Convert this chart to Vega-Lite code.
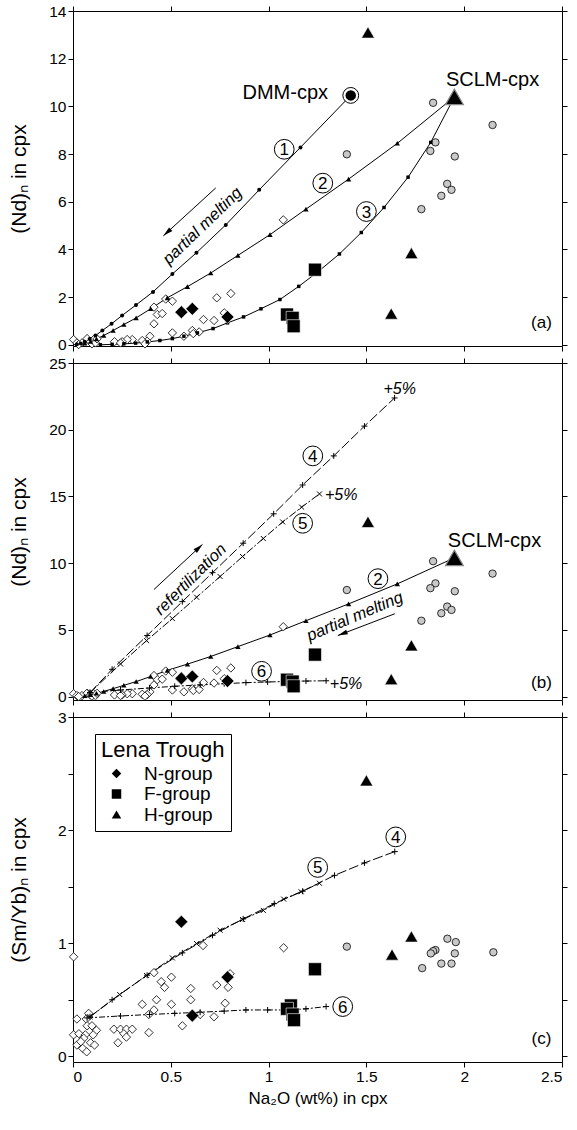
{
"$schema":"https://vega.github.io/schema/vega-lite/v6.json",
"padding":{"left":8,"top":4,"right":5,"bottom":5},
"spacing":17,
"bounds":"flush",
"config":{"font":"Liberation Sans","view":{"stroke":null},
 "axis":{"domainColor":"black","tickColor":"black","labelColor":"black","titleColor":"black","labelFontSize":15.5,"titleFontSize":21,"titleFontWeight":"normal","tickSize":5,"grid":false,"labelFont":"Liberation Sans","titleFont":"Liberation Sans"}},
"datasets":{
"ndOpen":[{"x":1.075,"y":5.24},{"x":0.735,"y":1.97},{"x":0.807,"y":2.15},{"x":0.474,"y":1.92},{"x":0.508,"y":1.83},{"x":0.414,"y":1.58},{"x":0.431,"y":1.27},{"x":0.456,"y":1.31},{"x":0.414,"y":0.88},{"x":0.667,"y":1.06},{"x":0.721,"y":1.02},{"x":0.773,"y":1.34},{"x":0.508,"y":0.5},{"x":0.567,"y":0.36},{"x":0.61,"y":0.6},{"x":0.615,"y":0.47},{"x":0.645,"y":0.54},{"x":0.393,"y":0.36},{"x":0.379,"y":0.15},{"x":0.354,"y":0.18},{"x":0.303,"y":0.22},{"x":0.277,"y":0.22},{"x":0.251,"y":0.13},{"x":0.212,"y":0.13},{"x":0.243,"y":0.08},{"x":0.368,"y":0.04},{"x":0.003,"y":0.22},{"x":0.02,"y":0.08},{"x":0.046,"y":0.08},{"x":0.072,"y":0.26},{"x":0.089,"y":0.13},{"x":0.106,"y":0.22},{"x":0.097,"y":0.04},{"x":0.115,"y":0.08},{"x":0.029,"y":0.01},{"x":0.123,"y":0.25}],
"ndGray":[{"x":1.841,"y":10.15},{"x":2.145,"y":9.22},{"x":1.4,"y":7.99},{"x":1.853,"y":8.49},{"x":1.827,"y":8.13},{"x":1.952,"y":7.9},{"x":1.913,"y":6.75},{"x":1.935,"y":6.5},{"x":1.883,"y":6.25},{"x":1.781,"y":5.69}],
"ndLena":[{"g":"N-group","x":0.554,"y":1.37},{"g":"N-group","x":0.61,"y":1.51},{"g":"N-group","x":0.79,"y":1.17},{"g":"F-group","x":1.237,"y":3.15},{"g":"F-group","x":1.094,"y":1.27},{"g":"F-group","x":1.123,"y":1.13},{"g":"F-group","x":1.128,"y":0.78},{"g":"H-group","x":1.508,"y":13.1},{"g":"H-group","x":1.73,"y":3.85},{"g":"H-group","x":1.627,"y":1.31}],
"smybOpen":[{"x":0.003,"y":0.88},{"x":0.665,"y":0.98},{"x":1.077,"y":0.96},{"x":0.414,"y":0.74},{"x":0.451,"y":0.66},{"x":0.468,"y":0.61},{"x":0.503,"y":0.7},{"x":0.602,"y":0.6},{"x":0.602,"y":0.5},{"x":0.735,"y":0.63},{"x":0.793,"y":0.61},{"x":0.803,"y":0.73},{"x":0.778,"y":0.47},{"x":0.721,"y":0.35},{"x":0.65,"y":0.37},{"x":0.559,"y":0.27},{"x":0.354,"y":0.46},{"x":0.414,"y":0.41},{"x":0.427,"y":0.5},{"x":0.503,"y":0.46},{"x":0.388,"y":0.37},{"x":0.388,"y":0.21},{"x":0.209,"y":0.24},{"x":0.243,"y":0.24},{"x":0.273,"y":0.24},{"x":0.303,"y":0.24},{"x":0.26,"y":0.2},{"x":0.273,"y":0.17},{"x":0.02,"y":0.33},{"x":0.08,"y":0.38},{"x":0.068,"y":0.33},{"x":0.072,"y":0.27},{"x":0.097,"y":0.27},{"x":0.12,"y":0.23},{"x":0.103,"y":0.19},{"x":0.003,"y":0.19},{"x":0.03,"y":0.2},{"x":0.063,"y":0.19},{"x":0.055,"y":0.16},{"x":0.02,"y":0.1},{"x":0.05,"y":0.07},{"x":0.09,"y":0.12},{"x":0.07,"y":0.04},{"x":0.11,"y":0.1},{"x":0.04,"y":0.13},{"x":0.23,"y":0.12}],
"smybGray":[{"x":1.4,"y":0.97},{"x":1.914,"y":1.04},{"x":1.957,"y":1.01},{"x":1.853,"y":0.94},{"x":1.841,"y":0.93},{"x":1.829,"y":0.91},{"x":1.952,"y":0.91},{"x":2.149,"y":0.92},{"x":1.883,"y":0.82},{"x":1.935,"y":0.82},{"x":1.785,"y":0.78}],
"smybLena":[{"g":"N-group","x":0.554,"y":1.19},{"g":"N-group","x":0.79,"y":0.7},{"g":"N-group","x":0.61,"y":0.36},{"g":"F-group","x":1.237,"y":0.77},{"g":"F-group","x":1.114,"y":0.45},{"g":"F-group","x":1.094,"y":0.42},{"g":"F-group","x":1.123,"y":0.37},{"g":"F-group","x":1.13,"y":0.32},{"g":"H-group","x":1.5,"y":2.44},{"g":"H-group","x":1.73,"y":1.06},{"g":"H-group","x":1.631,"y":0.9}],
"ndCurves":[
{"c":"1","x":1.42,"y":10.46},{"c":"1","x":1.163,"y":8.28},{"c":"1","x":0.952,"y":6.5},{"c":"1","x":0.781,"y":5.03},{"c":"1","x":0.631,"y":3.86},{"c":"1","x":0.508,"y":2.97},{"c":"1","x":0.409,"y":2.22},{"c":"1","x":0.322,"y":1.67},{"c":"1","x":0.251,"y":1.23},{"c":"1","x":0.197,"y":0.88},{"c":"1","x":0.15,"y":0.6},{"c":"1","x":0.115,"y":0.39},{"c":"1","x":0.085,"y":0.24},{"c":"1","x":0.06,"y":0.13},{"c":"1","x":0.04,"y":0.06},{"c":"1","x":0.02,"y":0.02},
{"c":"2","x":1.95,"y":10.4},{"c":"2","x":1.658,"y":8.45},{"c":"2","x":1.409,"y":6.95},{"c":"2","x":1.191,"y":5.69},{"c":"2","x":1.007,"y":4.62},{"c":"2","x":0.843,"y":3.75},{"c":"2","x":0.704,"y":3.01},{"c":"2","x":0.585,"y":2.44},{"c":"2","x":0.482,"y":1.97},{"c":"2","x":0.397,"y":1.51},{"c":"2","x":0.323,"y":1.13},{"c":"2","x":0.26,"y":0.85},{"c":"2","x":0.205,"y":0.6},{"c":"2","x":0.157,"y":0.39},{"c":"2","x":0.12,"y":0.25},{"c":"2","x":0.09,"y":0.14},{"c":"2","x":0.06,"y":0.07},
{"c":"3","x":1.95,"y":10.4},{"c":"3","x":1.829,"y":8.49},{"c":"3","x":1.713,"y":7.03},{"c":"3","x":1.59,"y":5.76},{"c":"3","x":1.474,"y":4.71},{"c":"3","x":1.362,"y":3.81},{"c":"3","x":1.255,"y":3.08},{"c":"3","x":1.154,"y":2.45},{"c":"3","x":1.058,"y":1.9},{"c":"3","x":0.961,"y":1.51},{"c":"3","x":0.872,"y":1.17},{"c":"3","x":0.79,"y":0.92},{"c":"3","x":0.716,"y":0.68},{"c":"3","x":0.636,"y":0.5},{"c":"3","x":0.567,"y":0.36},{"c":"3","x":0.508,"y":0.26},{"c":"3","x":0.444,"y":0.18},{"c":"3","x":0.38,"y":0.12},{"c":"3","x":0.32,"y":0.07},{"c":"3","x":0.26,"y":0.04},{"c":"3","x":0.2,"y":0.02},{"c":"3","x":0.14,"y":0.0},
{"c":"4","x":0.087,"y":0.3},{"c":"4","x":0.2,"y":2.05},{"c":"4","x":0.379,"y":4.58},{"c":"4","x":0.559,"y":7.12},{"c":"4","x":0.713,"y":9.29},{"c":"4","x":0.87,"y":11.5},{"c":"4","x":1.026,"y":13.7},{"c":"4","x":1.174,"y":15.86},{"c":"4","x":1.333,"y":18.04},{"c":"4","x":1.49,"y":20.27},{"c":"4","x":1.644,"y":22.38},
{"c":"5","x":0.087,"y":0.3},{"c":"5","x":0.243,"y":2.45},{"c":"5","x":0.376,"y":4.2},{"c":"5","x":0.508,"y":5.85},{"c":"5","x":0.632,"y":7.45},{"c":"5","x":0.752,"y":9.0},{"c":"5","x":0.867,"y":10.5},{"c":"5","x":0.973,"y":11.85},{"c":"5","x":1.072,"y":13.09},{"c":"5","x":1.169,"y":14.2},{"c":"5","x":1.26,"y":15.19},
{"c":"6","x":0.087,"y":0.3},{"c":"6","x":0.243,"y":0.5},{"c":"6","x":0.391,"y":0.65},{"c":"6","x":0.52,"y":0.78},{"c":"6","x":0.65,"y":0.88},{"c":"6","x":0.773,"y":0.97},{"c":"6","x":0.884,"y":1.05},{"c":"6","x":0.995,"y":1.1},{"c":"6","x":1.1,"y":1.14},{"c":"6","x":1.191,"y":1.17},{"c":"6","x":1.294,"y":1.19}],
"smybCurves":[
{"c":"4","x":0.087,"y":0.35},{"c":"4","x":0.2,"y":0.5},{"c":"4","x":0.379,"y":0.717},{"c":"4","x":0.559,"y":0.915},{"c":"4","x":0.713,"y":1.07},{"c":"4","x":0.87,"y":1.215},{"c":"4","x":1.029,"y":1.35},{"c":"4","x":1.174,"y":1.46},{"c":"4","x":1.337,"y":1.6},{"c":"4","x":1.49,"y":1.71},{"c":"4","x":1.645,"y":1.81},
{"c":"5","x":0.087,"y":0.35},{"c":"5","x":0.239,"y":0.546},{"c":"5","x":0.376,"y":0.715},{"c":"5","x":0.508,"y":0.87},{"c":"5","x":0.632,"y":0.997},{"c":"5","x":0.752,"y":1.115},{"c":"5","x":0.867,"y":1.21},{"c":"5","x":0.973,"y":1.29},{"c":"5","x":1.077,"y":1.39},{"c":"5","x":1.166,"y":1.455},{"c":"5","x":1.26,"y":1.53},
{"c":"6","x":0.072,"y":0.34},{"c":"6","x":0.243,"y":0.357},{"c":"6","x":0.391,"y":0.37},{"c":"6","x":0.52,"y":0.38},{"c":"6","x":0.65,"y":0.39},{"c":"6","x":0.773,"y":0.4},{"c":"6","x":0.884,"y":0.41},{"c":"6","x":0.995,"y":0.41},{"c":"6","x":1.1,"y":0.41},{"c":"6","x":1.191,"y":0.42},{"c":"6","x":1.294,"y":0.44}],
"circ":[{"p":"a","t":"1","x":1.08,"y":8.2},{"p":"a","t":"2","x":1.277,"y":6.78},{"p":"a","t":"3","x":1.5,"y":5.59},{"p":"b","t":"4","x":1.226,"y":18.04},{"p":"b","t":"5","x":1.174,"y":12.99},{"p":"b","t":"2","x":1.559,"y":8.84},{"p":"b","t":"6","x":0.964,"y":1.9},{"p":"c","t":"4","x":1.65,"y":1.94},{"p":"c","t":"5","x":1.251,"y":1.67},{"p":"c","t":"6","x":1.379,"y":0.44}],
"labels":[{"p":"a","t":"DMM-cpx","x":1.085,"y":10.56},{"p":"a","t":"SCLM-cpx","x":2.145,"y":11.1},{"p":"b","t":"SCLM-cpx","x":2.155,"y":11.64}],
"tags":[{"p":"a","t":"(a)","x":2.395,"y":0.9},{"p":"b","t":"(b)","x":2.395,"y":1.05},{"p":"c","t":"(c)","x":2.395,"y":0.15}],
"pct":[{"t":"+5%","x":1.67,"y":23.05},{"t":"+5%","x":1.371,"y":15.11},{"t":"+5%","x":1.396,"y":0.98}],
"arrows":[{"a":"am","x":0.73,"y":6.58},{"a":"am","x":0.462,"y":4.57},{"a":"bm","x":1.645,"y":6.21},{"a":"bm","x":1.354,"y":4.58},{"a":"br","x":0.414,"y":8.03},{"a":"br","x":0.662,"y":11.41}]
},
"resolve":{"scale":{"shape":"independent"},"legend":{"shape":"independent"}},
"vconcat":[
{"width":489,"height":335,
 "resolve":{"axis":{"x":"independent","y":"independent"}},
 "layer":[
  {"data":{"name":"ndCurves"},"transform":[{"filter":"datum.c<='3'"}],
   "mark":{"type":"line","color":"black","strokeWidth":1},
   "encoding":{
    "x":{"field":"x","type":"quantitative","scale":{"domain":[0,2.5],"nice":false,"zero":false},"axis":{"values":[0,0.5,1,1.5,2,2.5],"labels":false,"title":null}},
    "y":{"field":"y","type":"quantitative","scale":{"domain":[-0.05,14],"nice":false,"zero":false},"axis":{"values":[0,2,4,6,8,10,12,14],"title":"(Nd)ₙ in cpx","minExtent":30,"maxExtent":30,"titlePadding":14}},
    "detail":{"field":"c"},"order":{"field":"x","type":"quantitative"}}},
  {"data":{"name":"ndGray"},"mark":{"type":"point","shape":"circle","filled":true,"fill":"#c8c8c8","stroke":"black","strokeWidth":0.8,"size":55,"opacity":1},
   "encoding":{
    "x":{"field":"x","type":"quantitative","axis":{"orient":"top","values":[0,0.5,1,1.5,2,2.5],"labels":false,"title":null}},
    "y":{"field":"y","type":"quantitative","axis":{"orient":"right","values":[0,2,4,6,8,10,12,14],"labels":false,"title":null}}}},
  {"data":{"name":"ndOpen"},"mark":{"type":"point","shape":"diamond","filled":true,"fill":"white","stroke":"black","strokeWidth":0.8,"size":70,"opacity":1},
   "encoding":{"x":{"field":"x","type":"quantitative","axis":null},"y":{"field":"y","type":"quantitative","axis":null}}},
  {"data":{"name":"ndCurves"},"transform":[{"filter":"datum.c=='1' && datum.x<1.4"}],"mark":{"type":"point","shape":"circle","filled":true,"color":"black","size":16,"opacity":1},
   "encoding":{"x":{"field":"x","type":"quantitative","axis":null},"y":{"field":"y","type":"quantitative","axis":null}}},
  {"data":{"name":"ndCurves"},"transform":[{"filter":"datum.c=='2' && datum.x<1.9"}],"mark":{"type":"point","shape":"triangle-up","filled":true,"color":"black","size":28,"opacity":1},
   "encoding":{"x":{"field":"x","type":"quantitative","axis":null},"y":{"field":"y","type":"quantitative","axis":null}}},
  {"data":{"name":"ndCurves"},"transform":[{"filter":"datum.c=='3' && datum.x<1.9"}],"mark":{"type":"point","shape":"square","filled":true,"color":"black","size":12,"opacity":1},
   "encoding":{"x":{"field":"x","type":"quantitative","axis":null},"y":{"field":"y","type":"quantitative","axis":null}}},
  {"data":{"name":"ndLena"},"mark":{"type":"point","filled":true,"color":"black","stroke":"white","strokeWidth":0.6,"size":170,"opacity":1},
   "encoding":{"x":{"field":"x","type":"quantitative","axis":null},"y":{"field":"y","type":"quantitative","axis":null},
    "shape":{"field":"g","type":"nominal","scale":{"domain":["N-group","F-group","H-group"],"range":["diamond","square","triangle-up"]},"legend":null}}},
  {"data":{"values":[{"x":1.42,"y":10.46}]},"mark":{"type":"point","shape":"circle","filled":true,"fill":"white","stroke":"black","strokeWidth":1,"size":250,"opacity":1},
   "encoding":{"x":{"field":"x","type":"quantitative","axis":null},"y":{"field":"y","type":"quantitative","axis":null}}},
  {"data":{"values":[{"x":1.42,"y":10.46}]},"mark":{"type":"point","shape":"circle","filled":true,"color":"black","size":110,"opacity":1},
   "encoding":{"x":{"field":"x","type":"quantitative","axis":null},"y":{"field":"y","type":"quantitative","axis":null}}},
  {"data":{"values":[{"x":1.95,"y":10.4}]},"mark":{"type":"point","shape":"triangle-up","filled":true,"fill":"black","stroke":"#888888","strokeWidth":1.2,"size":320,"opacity":1},
   "encoding":{"x":{"field":"x","type":"quantitative","axis":null},"y":{"field":"y","type":"quantitative","axis":null}}},
  {"data":{"name":"circ"},"transform":[{"filter":"datum.p=='a'"}],"mark":{"type":"point","shape":"circle","filled":true,"fill":"white","stroke":"black","strokeWidth":1,"size":390,"opacity":1},
   "encoding":{"x":{"field":"x","type":"quantitative","axis":null},"y":{"field":"y","type":"quantitative","axis":null}}},
  {"data":{"name":"circ"},"transform":[{"filter":"datum.p=='a'"}],"mark":{"type":"text","fontSize":17,"color":"black","baseline":"middle","dy":1},
   "encoding":{"x":{"field":"x","type":"quantitative","axis":null},"y":{"field":"y","type":"quantitative","axis":null},"text":{"field":"t"}}},
  {"data":{"name":"labels"},"transform":[{"filter":"datum.p=='a'"}],"mark":{"type":"text","fontSize":20,"color":"black","baseline":"middle"},
   "encoding":{"x":{"field":"x","type":"quantitative","axis":null},"y":{"field":"y","type":"quantitative","axis":null},"text":{"field":"t"}}},
  {"data":{"name":"tags"},"transform":[{"filter":"datum.p=='a'"}],"mark":{"type":"text","fontSize":17,"color":"black","baseline":"middle"},
   "encoding":{"x":{"field":"x","type":"quantitative","axis":null},"y":{"field":"y","type":"quantitative","axis":null},"text":{"field":"t"}}},
  {"data":{"values":[{"t":"partial melting","x":0.662,"y":4.98}]},"mark":{"type":"text","fontSize":16.5,"fontStyle":"italic","color":"black","baseline":"middle","angle":316},
   "encoding":{"x":{"field":"x","type":"quantitative","axis":null},"y":{"field":"y","type":"quantitative","axis":null},"text":{"field":"t"}}},
  {"data":{"name":"arrows"},"transform":[{"filter":"datum.a=='am'"}],"mark":{"type":"line","color":"black","strokeWidth":1},
   "encoding":{"x":{"field":"x","type":"quantitative","axis":null},"y":{"field":"y","type":"quantitative","axis":null}}},
  {"data":{"values":[{"x":0.462,"y":4.57}]},"mark":{"type":"point","shape":"M0,0L0.55,2.2L-0.55,2.2Z","filled":true,"color":"black","size":81,"opacity":1,"angle":228},
   "encoding":{"x":{"field":"x","type":"quantitative","axis":null},"y":{"field":"y","type":"quantitative","axis":null}}}
 ]},
{"width":489,"height":337,
 "resolve":{"axis":{"x":"independent","y":"independent"}},
 "layer":[
  {"data":{"name":"ndCurves"},"transform":[{"filter":"datum.c=='2'"}],
   "mark":{"type":"line","color":"black","strokeWidth":1},
   "encoding":{
    "x":{"field":"x","type":"quantitative","scale":{"domain":[0,2.5],"nice":false,"zero":false},"axis":{"values":[0,0.5,1,1.5,2,2.5],"labels":false,"title":null}},
    "y":{"field":"y","type":"quantitative","scale":{"domain":[-0.25,25],"nice":false,"zero":false},"axis":{"values":[0,5,10,15,20,25],"title":"(Nd)ₙ in cpx","minExtent":30,"maxExtent":30,"titlePadding":14}},
    "order":{"field":"x","type":"quantitative"}}},
  {"data":{"name":"ndCurves"},"transform":[{"filter":"datum.c=='4'"}],"mark":{"type":"line","color":"black","strokeWidth":1,"strokeDash":[10,3]},
   "encoding":{
    "x":{"field":"x","type":"quantitative","axis":{"orient":"top","values":[0,0.5,1,1.5,2,2.5],"labels":false,"title":null}},
    "y":{"field":"y","type":"quantitative","axis":{"orient":"right","values":[0,5,10,15,20,25],"labels":false,"title":null}},
    "order":{"field":"x","type":"quantitative"}}},
  {"data":{"name":"ndCurves"},"transform":[{"filter":"datum.c=='5'"}],"mark":{"type":"line","color":"black","strokeWidth":1,"strokeDash":[8,2,2,2]},
   "encoding":{"x":{"field":"x","type":"quantitative","axis":null},"y":{"field":"y","type":"quantitative","axis":null},"order":{"field":"x","type":"quantitative"}}},
  {"data":{"name":"ndCurves"},"transform":[{"filter":"datum.c=='6'"}],"mark":{"type":"line","color":"black","strokeWidth":1,"strokeDash":[6,2,2,2]},
   "encoding":{"x":{"field":"x","type":"quantitative","axis":null},"y":{"field":"y","type":"quantitative","axis":null},"order":{"field":"x","type":"quantitative"}}},
  {"data":{"name":"ndGray"},"mark":{"type":"point","shape":"circle","filled":true,"fill":"#c8c8c8","stroke":"black","strokeWidth":0.8,"size":55,"opacity":1},
   "encoding":{"x":{"field":"x","type":"quantitative","axis":null},"y":{"field":"y","type":"quantitative","axis":null}}},
  {"data":{"name":"ndOpen"},"mark":{"type":"point","shape":"diamond","filled":true,"fill":"white","stroke":"black","strokeWidth":0.8,"size":70,"opacity":1},
   "encoding":{"x":{"field":"x","type":"quantitative","axis":null},"y":{"field":"y","type":"quantitative","axis":null}}},
  {"data":{"name":"ndCurves"},"transform":[{"filter":"datum.c=='2' && datum.x<1.9"}],"mark":{"type":"point","shape":"triangle-up","filled":true,"color":"black","size":28,"opacity":1},
   "encoding":{"x":{"field":"x","type":"quantitative","axis":null},"y":{"field":"y","type":"quantitative","axis":null}}},
  {"data":{"name":"ndCurves"},"transform":[{"filter":"datum.c=='4' || datum.c=='6'"}],"mark":{"type":"point","shape":"M-1,0L1,0M0,-1L0,1","filled":false,"color":"black","strokeWidth":1,"size":36,"opacity":1},
   "encoding":{"x":{"field":"x","type":"quantitative","axis":null},"y":{"field":"y","type":"quantitative","axis":null}}},
  {"data":{"name":"ndCurves"},"transform":[{"filter":"datum.c=='5'"}],"mark":{"type":"point","shape":"M-1,-1L1,1M-1,1L1,-1","filled":false,"color":"black","strokeWidth":1,"size":25,"opacity":1},
   "encoding":{"x":{"field":"x","type":"quantitative","axis":null},"y":{"field":"y","type":"quantitative","axis":null}}},
  {"data":{"name":"ndLena"},"mark":{"type":"point","filled":true,"color":"black","stroke":"white","strokeWidth":0.6,"size":170,"opacity":1},
   "encoding":{"x":{"field":"x","type":"quantitative","axis":null},"y":{"field":"y","type":"quantitative","axis":null},
    "shape":{"field":"g","type":"nominal","scale":{"domain":["N-group","F-group","H-group"],"range":["diamond","square","triangle-up"]},"legend":null}}},
  {"data":{"values":[{"x":1.95,"y":10.4}]},"mark":{"type":"point","shape":"triangle-up","filled":true,"fill":"black","stroke":"#888888","strokeWidth":1.2,"size":320,"opacity":1},
   "encoding":{"x":{"field":"x","type":"quantitative","axis":null},"y":{"field":"y","type":"quantitative","axis":null}}},
  {"data":{"name":"circ"},"transform":[{"filter":"datum.p=='b'"}],"mark":{"type":"point","shape":"circle","filled":true,"fill":"white","stroke":"black","strokeWidth":1,"size":390,"opacity":1},
   "encoding":{"x":{"field":"x","type":"quantitative","axis":null},"y":{"field":"y","type":"quantitative","axis":null}}},
  {"data":{"name":"circ"},"transform":[{"filter":"datum.p=='b'"}],"mark":{"type":"text","fontSize":17,"color":"black","baseline":"middle","dy":1},
   "encoding":{"x":{"field":"x","type":"quantitative","axis":null},"y":{"field":"y","type":"quantitative","axis":null},"text":{"field":"t"}}},
  {"data":{"name":"labels"},"transform":[{"filter":"datum.p=='b'"}],"mark":{"type":"text","fontSize":20,"color":"black","baseline":"middle"},
   "encoding":{"x":{"field":"x","type":"quantitative","axis":null},"y":{"field":"y","type":"quantitative","axis":null},"text":{"field":"t"}}},
  {"data":{"name":"tags"},"transform":[{"filter":"datum.p=='b'"}],"mark":{"type":"text","fontSize":17,"color":"black","baseline":"middle"},
   "encoding":{"x":{"field":"x","type":"quantitative","axis":null},"y":{"field":"y","type":"quantitative","axis":null},"text":{"field":"t"}}},
  {"data":{"name":"pct"},"mark":{"type":"text","fontSize":16,"fontStyle":"italic","color":"black","baseline":"middle"},
   "encoding":{"x":{"field":"x","type":"quantitative","axis":null},"y":{"field":"y","type":"quantitative","axis":null},"text":{"field":"t"}}},
  {"data":{"values":[{"t":"refertilization","x":0.601,"y":8.78}]},"mark":{"type":"text","fontSize":16.5,"fontStyle":"italic","color":"black","baseline":"middle","angle":315},
   "encoding":{"x":{"field":"x","type":"quantitative","axis":null},"y":{"field":"y","type":"quantitative","axis":null},"text":{"field":"t"}}},
  {"data":{"values":[{"t":"partial melting","x":1.441,"y":6.0}]},"mark":{"type":"text","fontSize":16.5,"fontStyle":"italic","color":"black","baseline":"middle","angle":337},
   "encoding":{"x":{"field":"x","type":"quantitative","axis":null},"y":{"field":"y","type":"quantitative","axis":null},"text":{"field":"t"}}},
  {"data":{"name":"arrows"},"transform":[{"filter":"datum.a!='am'"}],"mark":{"type":"line","color":"black","strokeWidth":1},
   "encoding":{"x":{"field":"x","type":"quantitative","axis":null},"y":{"field":"y","type":"quantitative","axis":null},"detail":{"field":"a"}}},
  {"data":{"values":[{"x":1.354,"y":4.58}]},"mark":{"type":"point","shape":"M0,0L0.55,2.2L-0.55,2.2Z","filled":true,"color":"black","size":81,"opacity":1,"angle":249},
   "encoding":{"x":{"field":"x","type":"quantitative","axis":null},"y":{"field":"y","type":"quantitative","axis":null}}},
  {"data":{"values":[{"x":0.662,"y":11.41}]},"mark":{"type":"point","shape":"M0,0L0.55,2.2L-0.55,2.2Z","filled":true,"color":"black","size":81,"opacity":1,"angle":47},
   "encoding":{"x":{"field":"x","type":"quantitative","axis":null},"y":{"field":"y","type":"quantitative","axis":null}}}
 ]},
{"width":489,"height":345,
 "resolve":{"axis":{"x":"independent","y":"independent"}},
 "layer":[
  {"data":{"name":"smybCurves"},"transform":[{"filter":"datum.c=='4'"}],
   "mark":{"type":"line","color":"black","strokeWidth":1,"strokeDash":[10,3]},
   "encoding":{
    "x":{"field":"x","type":"quantitative","scale":{"domain":[0,2.5],"nice":false,"zero":false},"axis":{"values":[0,0.5,1,1.5,2,2.5],"format":"~g","title":"Na₂O (wt%) in cpx","titleFontSize":17,"titlePadding":6}},
    "y":{"field":"y","type":"quantitative","scale":{"domain":[-0.05,3],"nice":false,"zero":false},"axis":{"values":[0,0.5,1,1.5,2,2.5,3],"format":"~g","labelExpr":"datum.value % 1 === 0 ? datum.label : ''","title":"(Sm/Yb)ₙ in cpx","minExtent":30,"maxExtent":30,"titlePadding":14}},
    "order":{"field":"x","type":"quantitative"}}},
  {"data":{"name":"smybCurves"},"transform":[{"filter":"datum.c=='5'"}],"mark":{"type":"line","color":"black","strokeWidth":1,"strokeDash":[8,2,2,2]},
   "encoding":{
    "x":{"field":"x","type":"quantitative","axis":{"orient":"top","values":[0,0.5,1,1.5,2,2.5],"labels":false,"title":null}},
    "y":{"field":"y","type":"quantitative","axis":{"orient":"right","values":[0,0.5,1,1.5,2,2.5,3],"labels":false,"title":null}},
    "order":{"field":"x","type":"quantitative"}}},
  {"data":{"name":"smybCurves"},"transform":[{"filter":"datum.c=='6'"}],"mark":{"type":"line","color":"black","strokeWidth":1,"strokeDash":[6,2,2,2]},
   "encoding":{"x":{"field":"x","type":"quantitative","axis":null},"y":{"field":"y","type":"quantitative","axis":null},"order":{"field":"x","type":"quantitative"}}},
  {"data":{"name":"smybGray"},"mark":{"type":"point","shape":"circle","filled":true,"fill":"#c8c8c8","stroke":"black","strokeWidth":0.8,"size":55,"opacity":1},
   "encoding":{"x":{"field":"x","type":"quantitative","axis":null},"y":{"field":"y","type":"quantitative","axis":null}}},
  {"data":{"name":"smybOpen"},"mark":{"type":"point","shape":"diamond","filled":true,"fill":"white","stroke":"black","strokeWidth":0.8,"size":70,"opacity":1},
   "encoding":{"x":{"field":"x","type":"quantitative","axis":null},"y":{"field":"y","type":"quantitative","axis":null}}},
  {"data":{"name":"smybCurves"},"transform":[{"filter":"datum.c=='4' || datum.c=='6'"}],"mark":{"type":"point","shape":"M-1,0L1,0M0,-1L0,1","filled":false,"color":"black","strokeWidth":1,"size":36,"opacity":1},
   "encoding":{"x":{"field":"x","type":"quantitative","axis":null},"y":{"field":"y","type":"quantitative","axis":null}}},
  {"data":{"name":"smybCurves"},"transform":[{"filter":"datum.c=='5'"}],"mark":{"type":"point","shape":"M-1,-1L1,1M-1,1L1,-1","filled":false,"color":"black","strokeWidth":1,"size":25,"opacity":1},
   "encoding":{"x":{"field":"x","type":"quantitative","axis":null},"y":{"field":"y","type":"quantitative","axis":null}}},
  {"data":{"name":"smybLena"},"mark":{"type":"point","filled":true,"color":"black","stroke":"white","strokeWidth":0.6,"size":170,"opacity":1},
   "encoding":{"x":{"field":"x","type":"quantitative","axis":null},"y":{"field":"y","type":"quantitative","axis":null},
    "shape":{"field":"g","type":"nominal","scale":{"domain":["N-group","F-group","H-group"],"range":["diamond","square","triangle-up"]},
     "legend":{"orient":"none","legendX":22,"legendY":17,"title":"Lena Trough","titleFontSize":22,"titleFontWeight":"normal","titleColor":"black","labelFontSize":19,"labelColor":"black","strokeColor":"black","fillColor":"white","padding":6,"symbolSize":90,"symbolOffset":6,"labelOffset":18,"rowPadding":0.5,"titlePadding":2,"symbolFillColor":"black","symbolStrokeColor":"black","symbolStrokeWidth":0}}}},
  {"data":{"name":"circ"},"transform":[{"filter":"datum.p=='c'"}],"mark":{"type":"point","shape":"circle","filled":true,"fill":"white","stroke":"black","strokeWidth":1,"size":390,"opacity":1},
   "encoding":{"x":{"field":"x","type":"quantitative","axis":null},"y":{"field":"y","type":"quantitative","axis":null}}},
  {"data":{"name":"circ"},"transform":[{"filter":"datum.p=='c'"}],"mark":{"type":"text","fontSize":17,"color":"black","baseline":"middle","dy":1},
   "encoding":{"x":{"field":"x","type":"quantitative","axis":null},"y":{"field":"y","type":"quantitative","axis":null},"text":{"field":"t"}}},
  {"data":{"name":"tags"},"transform":[{"filter":"datum.p=='c'"}],"mark":{"type":"text","fontSize":17,"color":"black","baseline":"middle"},
   "encoding":{"x":{"field":"x","type":"quantitative","axis":null},"y":{"field":"y","type":"quantitative","axis":null},"text":{"field":"t"}}}
 ]}
]
}
